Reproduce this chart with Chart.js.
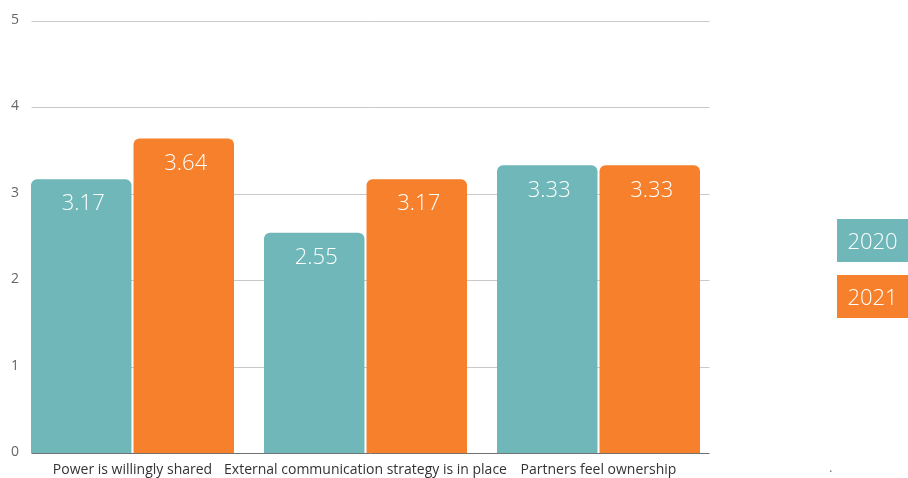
<!DOCTYPE html>
<html>
<head>
<meta charset="utf-8">
<script src="https://cdn.jsdelivr.net/npm/chart.js@4/dist/chart.umd.min.js"></script>
<style>
  html, body { margin: 0; padding: 0; background: #fff; }
  #wrap { position: relative; width: 908px; height: 478px; }
  #legend { position: absolute; left: 837px; top: 219px; }
  .key { width: 71px; height: 43px; margin-bottom: 13px; color: #fff;
         font: 300 22px "Open Sans", sans-serif; line-height: 43px; text-align: center; }
  #dot { position: absolute; left: 829px; top: 458px; color: #777; font: 13px "Open Sans", sans-serif; }
</style>
</head>
<body>
<div id="wrap">
  <canvas id="chart" width="908" height="478"></canvas>
  <div id="legend"></div>
  <div id="dot">.</div>
</div>
<script>
const categories = ["Power is willingly shared", "External communication strategy is in place", "Partners feel ownership"];
const seriesNames = ["2020", "2021"];
const values2020 = [3.17, 2.55, 3.33];
const values2021 = [3.64, 3.17, 3.33];
const yTicks = [0, 1, 2, 3, 4, 5];
const colors = ["#6fb7b9", "#f6802b"];

// horizontal guides inset from the plot edges, plus the y labels on the far left
const gridPlugin = {
  id: "gridLines",
  beforeDatasetsDraw(chart) {
    const ctx = chart.ctx, y = chart.scales.y, area = chart.chartArea;
    const x0 = area.left + 15.5, x1 = area.right - 5.5;
    ctx.save();
    ctx.lineWidth = 1;
    ctx.font = "14px 'Open Sans', sans-serif";
    ctx.fillStyle = "#666";
    ctx.textAlign = "center";
    ctx.textBaseline = "middle";
    yTicks.forEach(v => {
      const py = Math.round(y.getPixelForValue(v)) + 0.5;
      ctx.strokeStyle = v === 0 ? "#707070" : "#c9c9c9";
      ctx.beginPath(); ctx.moveTo(x0, py); ctx.lineTo(x1, py); ctx.stroke();
      ctx.fillText(String(v), 15, py - 1);
    });
    ctx.restore();
  }
};

// value printed inside the top of each bar
const valuePlugin = {
  id: "barValues",
  afterDatasetsDraw(chart) {
    const ctx = chart.ctx;
    ctx.save();
    ctx.fillStyle = "#fff";
    ctx.font = "300 22px 'Open Sans', sans-serif";
    ctx.textAlign = "center";
    ctx.textBaseline = "middle";
    chart.data.datasets.forEach((ds, i) => {
      chart.getDatasetMeta(i).data.forEach((bar, j) => {
        ctx.fillText(ds.data[j].toFixed(2), bar.x + 2, bar.y + 25);
      });
    });
    ctx.restore();
  }
};

new Chart("chart", {
  type: "bar",
  data: {
    labels: categories,
    datasets: [
      { label: seriesNames[0], data: values2020, backgroundColor: colors[0] },
      { label: seriesNames[1], data: values2021, backgroundColor: colors[1] }
    ]
  },
  options: {
    responsive: false,
    animation: false,
    layout: { padding: { top: 21, right: 193, left: 0, bottom: 0 } },
    datasets: {
      bar: {
        categoryPercentage: 0.88,
        barPercentage: 0.98,
        borderRadius: { topLeft: 6, topRight: 6 },
        borderSkipped: "bottom"
      }
    },
    plugins: { legend: { display: false }, tooltip: { enabled: false } },
    scales: {
      x: {
        grid: { display: false },
        border: { display: false },
        ticks: { color: "#333", font: { family: "Open Sans", size: 14 }, padding: 0, maxRotation: 0, autoSkip: false }
      },
      y: {
        min: 0, max: 5,
        afterFit(scale) { scale.width = 16; },
        grid: { display: false, drawTicks: false },
        border: { display: false },
        ticks: { display: false, stepSize: 1 }
      }
    }
  },
  plugins: [gridPlugin, valuePlugin]
});

const legend = document.getElementById("legend");
seriesNames.forEach((name, i) => {
  const d = document.createElement("div");
  d.className = "key";
  d.style.background = colors[i];
  d.textContent = name;
  legend.appendChild(d);
});
</script>
</body>
</html>
